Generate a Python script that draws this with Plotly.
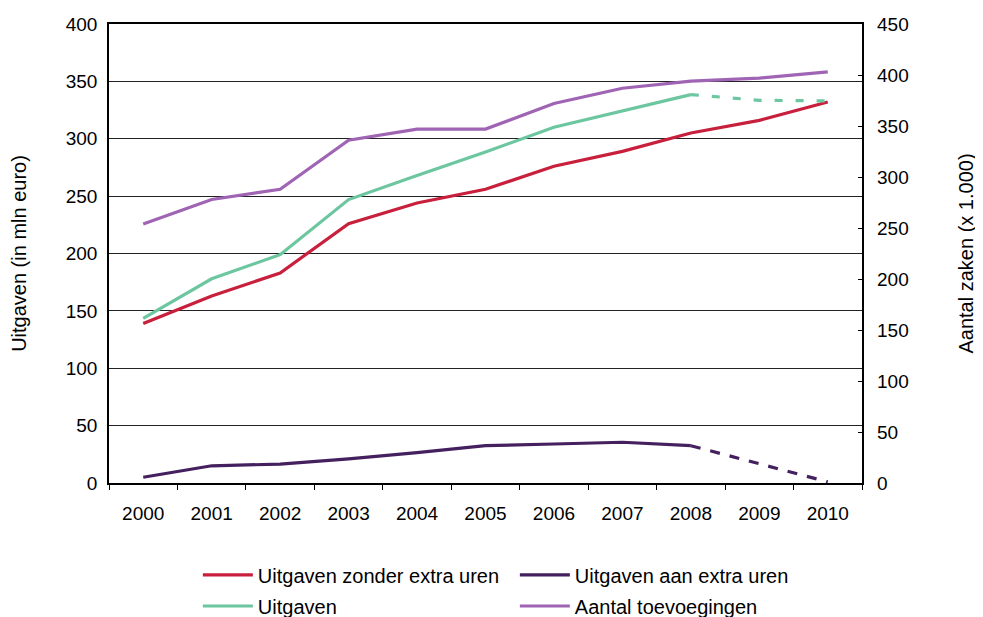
import plotly.graph_objects as go

years = ["2000", "2001", "2002", "2003", "2004", "2005", "2006", "2007", "2008", "2009", "2010"]
zonder_extra = [139, 163, 183, 226, 244, 256, 276, 289, 305, 316, 332]
aan_extra = [5, 15, 16.5, 21, 26.5, 32.5, 34, 35.5, 32.5, 16.5, 1]
uitgaven = [143.5, 178, 199, 247, 268, 288.5, 310, 324.5, 338.5, 333.5, 333]
toevoegingen = [254, 278, 288, 336, 347, 347, 372, 387, 394, 397, 403]

RED = "#C8203C"
DARK = "#45205E"
GREEN = "#6CC6A0"
PURPLE = "#A064B4"
FONT = "Liberation Sans, Arial, sans-serif"
LW = 3.2
split = years.index("2008")

fig = go.Figure()
fig.add_trace(go.Scatter(x=years, y=zonder_extra, mode="lines", name="Uitgaven zonder extra uren",
                         line=dict(color=RED, width=LW), legend="legend"))
fig.add_trace(go.Scatter(x=years[:split + 1], y=aan_extra[:split + 1], mode="lines", name="Uitgaven aan extra uren",
                         line=dict(color=DARK, width=LW), legend="legend"))
fig.add_trace(go.Scatter(x=years[split:], y=aan_extra[split:], mode="lines", showlegend=False,
                         line=dict(color=DARK, width=LW, dash="10px,10px")))
fig.add_trace(go.Scatter(x=years[:split + 1], y=uitgaven[:split + 1], mode="lines", name="Uitgaven",
                         line=dict(color=GREEN, width=LW), legend="legend2"))
fig.add_trace(go.Scatter(x=years[split:], y=uitgaven[split:], mode="lines", showlegend=False,
                         line=dict(color=GREEN, width=LW, dash="8px,13px")))
fig.add_trace(go.Scatter(x=years, y=toevoegingen, mode="lines", name="Aantal toevoegingen",
                         line=dict(color=PURPLE, width=LW), yaxis="y2", legend="legend2"))

legend_common = dict(orientation="h", x=0.118, xanchor="left", yanchor="middle",
                     entrywidth=252, entrywidthmode="pixels", itemwidth=50,
                     font=dict(size=20), bgcolor="rgba(0,0,0,0)")

fig.update_layout(
    width=975, height=609,
    margin=dict(l=101, r=121, t=16, b=134, autoexpand=False),
    paper_bgcolor="white", plot_bgcolor="white",
    font=dict(family=FONT, size=19, color="black"),
    xaxis=dict(type="category", range=[-0.5, 10.5], showline=True, linecolor="black", linewidth=1.5,
               mirror=True, ticks="outside", tickson="boundaries", ticklen=5, tickcolor="black",
               showgrid=False, tickfont=dict(size=19), ticklabelstandoff=12, automargin=False),
    yaxis=dict(range=[0, 400], dtick=50, showline=True, linecolor="black", linewidth=1.5, mirror=True,
               showgrid=True, gridcolor="#222222", gridwidth=1, ticks="", zeroline=False,
               title=dict(text="Uitgaven (in mln euro)", font=dict(size=20), standoff=45),
               tickfont=dict(size=19), ticklabelstandoff=6, automargin=False),
    yaxis2=dict(range=[0, 450], dtick=50, overlaying="y", side="right", showgrid=False, zeroline=False,
                ticks="inside", ticklen=4, tickcolor="black", showline=False,
                title=dict(text="Aantal zaken (x 1.000)", font=dict(size=20), standoff=51),
                tickfont=dict(size=19), ticklabelstandoff=14, automargin=False),
    legend=dict(y=-0.2, **legend_common),
    legend2=dict(y=-0.268, **legend_common),
)

fig.write_html("out.html")
